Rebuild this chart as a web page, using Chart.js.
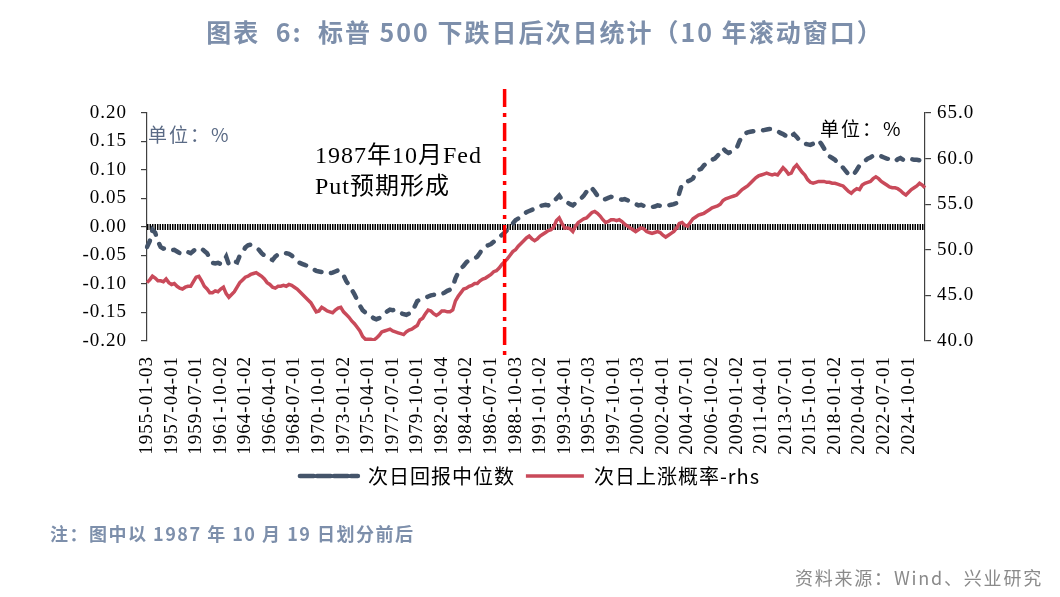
<!DOCTYPE html>
<html>
<head>
<meta charset="utf-8">
<script src="https://cdn.jsdelivr.net/npm/chart.js@4"></script>
<style>
  body { margin: 0; background: #fff; }
  #wrap { position: relative; width: 1060px; height: 597px; overflow: hidden; }
  #chart { position: absolute; left: 0; top: 0; }
  .txt { position: absolute; white-space: nowrap; }
  #title { left: 15px; width: 1060px; top: 13px; text-align: center; font: bold 25px "Noto Sans CJK SC", sans-serif; color: #7d8fab; letter-spacing: 2px; }
  #unitLeft { left: 148px; top: 120px; font: 19px "Noto Sans CJK SC", sans-serif; color: #5a6a85; letter-spacing: 2px; }
  #unitRight { left: 820px; top: 114px; font: 19px "Noto Sans CJK SC", sans-serif; color: #000; letter-spacing: 2px; }
  #fedNote { left: 315px; top: 140px; font: 24px "Liberation Serif", "Noto Sans CJK SC", serif; color: #000; line-height: 31px; letter-spacing: 1px; }
  #note { left: 50px; top: 520px; font: bold 18px "Noto Sans CJK SC", sans-serif; color: #7d8fab; letter-spacing: 1.5px; }
  #source { right: 17px; top: 564px; font: 18px "Noto Sans CJK SC", sans-serif; color: #8a8a8a; letter-spacing: 1.8px; }
</style>
</head>
<body>
<div id="wrap">
  <canvas id="chart" width="1060" height="597"></canvas>
  <div class="txt" id="title">图表&nbsp; 6:&nbsp; 标普 500 下跌日后次日统计（10 年滚动窗口）</div>
  <div class="txt" id="unitLeft">单位：%</div>
  <div class="txt" id="unitRight">单位：%</div>
  <div class="txt" id="fedNote">1987年10月Fed<br>Put预期形成</div>
  <div class="txt" id="note">注：图中以 1987 年 10 月 19 日划分前后</div>
  <div class="txt" id="source">资料来源：Wind、兴业研究</div>
</div>
<script>
// x axis labels shown every 9 quarters
const tickLabels = ['1955-01-03', '1957-04-01', '1959-07-01', '1961-10-02', '1964-01-02', '1966-04-01',
    '1968-07-01', '1970-10-01', '1973-01-02', '1975-04-01', '1977-07-01', '1979-10-01', '1982-01-04',
    '1984-04-02', '1986-07-01', '1988-10-03', '1991-01-02', '1993-04-01', '1995-07-03', '1997-10-01',
    '2000-01-03', '2002-04-01', '2004-07-01', '2006-10-02', '2009-01-02', '2011-04-01', '2013-07-01',
    '2015-10-01', '2018-01-02', '2020-04-01', '2022-07-01', '2024-10-01'];

// 次日回报中位数 (%), quarterly from 1955-01
const medianReturn = [
    -0.035, -0.025, -0.005, -0.010, -0.025, -0.035, -0.038, -0.037, -0.040, -0.041,
    -0.040, -0.043, -0.046, -0.045, -0.047, -0.044, -0.046, -0.042, -0.038, -0.037,
    -0.038, -0.042, -0.046, -0.055, -0.063, -0.064, -0.063, -0.065, -0.060, -0.052,
    -0.066, -0.062, -0.060, -0.062, -0.050, -0.045, -0.036, -0.032, -0.031, -0.033,
    -0.036, -0.040, -0.046, -0.050, -0.054, -0.056, -0.058, -0.052, -0.048, -0.046,
    -0.045, -0.046, -0.047, -0.050, -0.055, -0.060, -0.063, -0.065, -0.067, -0.068,
    -0.071, -0.074, -0.077, -0.078, -0.079, -0.079, -0.082, -0.081, -0.080, -0.078,
    -0.076, -0.078, -0.085, -0.095, -0.102, -0.110, -0.118, -0.128, -0.138, -0.146,
    -0.150, -0.153, -0.156, -0.160, -0.162, -0.160, -0.157, -0.152, -0.148, -0.145,
    -0.146, -0.145, -0.148, -0.151, -0.153, -0.154, -0.152, -0.150, -0.140, -0.130,
    -0.127, -0.125, -0.124, -0.122, -0.120, -0.119, -0.118, -0.119, -0.118, -0.115,
    -0.112, -0.110, -0.105, -0.090, -0.080, -0.073, -0.068, -0.062, -0.058, -0.057,
    -0.055, -0.052, -0.045, -0.038, -0.034, -0.032, -0.030, -0.026, -0.022, -0.018,
    -0.014, -0.010, -0.005, 0.002, 0.006, 0.012, 0.015, 0.018, 0.022, 0.026,
    0.028, 0.030, 0.032, 0.035, 0.037, 0.038, 0.039, 0.038, 0.040, 0.045,
    0.050, 0.055, 0.048, 0.045, 0.043, 0.040, 0.038, 0.042, 0.047, 0.050,
    0.055, 0.062, 0.070, 0.068, 0.062, 0.055, 0.050, 0.048, 0.049, 0.051,
    0.053, 0.052, 0.050, 0.049, 0.048, 0.049, 0.047, 0.044, 0.042, 0.040,
    0.038, 0.039, 0.037, 0.036, 0.037, 0.035, 0.036, 0.038, 0.037, 0.039,
    0.038, 0.038, 0.039, 0.040, 0.042, 0.060, 0.075, 0.078, 0.080, 0.082,
    0.085, 0.095, 0.100, 0.102, 0.108, 0.112, 0.116, 0.118, 0.120, 0.125,
    0.130, 0.138, 0.133, 0.130, 0.132, 0.136, 0.138, 0.150, 0.160, 0.164,
    0.166, 0.167, 0.168, 0.169, 0.170, 0.169, 0.170, 0.171, 0.172, 0.172,
    0.171, 0.168, 0.165, 0.163, 0.160, 0.156, 0.160, 0.163, 0.158, 0.152,
    0.148, 0.146, 0.145, 0.144, 0.146, 0.150, 0.152, 0.146, 0.138, 0.128,
    0.124, 0.121, 0.118, 0.112, 0.108, 0.104, 0.098, 0.092, 0.090, 0.093,
    0.100, 0.108, 0.112, 0.116, 0.120, 0.122, 0.125, 0.124, 0.126, 0.124,
    0.122, 0.120, 0.119, 0.117, 0.115, 0.119, 0.121, 0.118, 0.116, 0.118,
    0.119, 0.118, 0.118, 0.117, 0.118, 0.117
];

// 次日上涨概率 (%, rhs)
const riseProb = [
    46.4, 46.7, 47.1, 46.9, 46.6, 46.6, 46.5, 46.8, 46.4, 46.2,
    46.3, 46.0, 45.8, 45.7, 45.9, 46.0, 46.0, 46.5, 47.0, 47.1,
    46.6, 46.0, 45.7, 45.3, 45.3, 45.5, 45.4, 45.7, 45.9, 45.2,
    44.8, 45.1, 45.4, 45.9, 46.4, 46.7, 47.0, 47.1, 47.3, 47.4,
    47.5, 47.3, 47.1, 46.8, 46.4, 46.2, 45.9, 45.8, 46.0, 46.0,
    46.1, 46.0, 46.2, 46.1, 45.9, 45.7, 45.4, 45.1, 44.8, 44.5,
    44.2, 43.7, 43.2, 43.3, 43.7, 43.5, 43.3, 43.2, 43.1, 43.4,
    43.6, 43.7, 43.2, 42.9, 42.6, 42.2, 41.9, 41.5, 41.1, 40.5,
    40.2, 40.2, 40.2, 40.1, 40.3, 40.6, 41.0, 41.1, 41.2, 41.3,
    41.1, 41.0, 40.9, 40.8, 40.7, 41.0, 41.2, 41.3, 41.5, 41.7,
    42.3, 42.5, 43.0, 43.4, 43.3, 43.0, 42.8, 43.0, 43.3, 43.3,
    43.2, 43.2, 43.4, 44.4, 44.9, 45.3, 45.7, 45.8, 46.0, 46.1,
    46.3, 46.3, 46.6, 46.8, 46.9, 47.1, 47.3, 47.6, 47.7, 48.0,
    48.4, 48.7, 49.0, 49.4, 49.8, 50.0, 50.4, 50.7, 51.0, 51.3,
    51.5, 51.2, 51.0, 51.2, 51.5, 51.7, 51.9, 52.1, 52.2, 52.5,
    53.2, 53.5, 52.9, 52.4, 52.4, 52.3, 52.0, 52.6, 53.0, 53.2,
    53.4, 53.5, 53.8, 54.1, 54.2, 54.0, 53.7, 53.3, 53.0, 53.1,
    53.3, 53.3, 53.2, 53.3, 53.1, 52.8, 52.6, 52.4, 52.2, 52.0,
    52.2, 52.4, 52.3, 52.0, 51.9, 51.8, 51.9, 52.0, 51.9, 51.6,
    51.4, 51.6, 51.8, 52.0, 52.4, 52.9, 53.0, 52.7, 52.6, 53.0,
    53.4, 53.6, 53.8, 53.9, 54.0, 54.2, 54.4, 54.6, 54.7, 54.8,
    55.0, 55.4, 55.6, 55.7, 55.8, 55.9, 56.0, 56.3, 56.6, 56.8,
    57.0, 57.3, 57.6, 57.9, 58.1, 58.2, 58.3, 58.4, 58.3, 58.2,
    58.3, 58.2, 58.6, 59.0, 58.7, 58.3, 58.4, 59.0, 59.3, 58.9,
    58.5, 58.2, 57.7, 57.4, 57.3, 57.4, 57.5, 57.5, 57.5, 57.4,
    57.4, 57.3, 57.3, 57.2, 57.1, 57.0, 56.7, 56.4, 56.2, 56.5,
    56.7, 56.6, 57.1, 57.3, 57.4, 57.5, 57.8, 58.0, 57.8, 57.5,
    57.3, 57.1, 56.9, 56.8, 56.8, 56.7, 56.5, 56.2, 56.0, 56.3,
    56.6, 56.8, 57.0, 57.3, 57.1, 56.8
];

const zeroLine = medianReturn.map(() => 0);
const fedPutQuarter = '1987-10';
const labelStep = 9;

const quarterName = (i) => {
    const year = 1955 + Math.floor(i / 4);
    const month = (i % 4) * 3 + 1;
    return year + '-' + (month < 10 ? '0' + month : month);
};

const categories = medianReturn.map((v, i) => i % labelStep === 0 ? tickLabels[i / labelStep] : quarterName(i));
const fedIndex = medianReturn.map((v, i) => quarterName(i)).indexOf(fedPutQuarter);

const serif = '"Liberation Serif", "Times New Roman", serif';
const cjk = '"Noto Sans CJK SC", sans-serif';

// the original chart has loosely spaced text everywhere
const spacingPlugin = {
    id: 'spacing',
    beforeLayout(chart) { chart.ctx.letterSpacing = '1px'; },
    beforeDraw(chart) { chart.ctx.letterSpacing = '1px'; }
};

const fedLinePlugin = {
    id: 'fedLine',
    afterDatasetsDraw(chart) {
        const x = chart.scales.x.getPixelForValue(fedIndex);
        const area = chart.chartArea;
        const ctx = chart.ctx;
        ctx.save();
        ctx.strokeStyle = '#ff0000';
        ctx.lineWidth = 3.5;
        ctx.setLineDash([18, 6, 4, 6]);
        ctx.beginPath();
        ctx.moveTo(x, area.top - 24);
        ctx.lineTo(x, area.bottom + 17);
        ctx.stroke();
        ctx.restore();
    }
};

const axisGrid = {
    display: true,
    drawOnChartArea: false,
    drawTicks: true,
    tickLength: 6,
    color: '#404040',
    lineWidth: 1.2
};

const ctx = document.getElementById('chart').getContext('2d');

const chart = new Chart(ctx, {
    type: 'line',
    data: {
        labels: categories,
        datasets: [{
            label: '次日回报中位数',
            data: medianReturn,
            yAxisID: 'y',
            borderColor: '#44546a',
            backgroundColor: '#44546a',
            borderWidth: 4.5,
            borderDash: [7, 10],
            borderCapStyle: 'round',
            pointRadius: 0,
            tension: 0
        }, {
            label: '次日上涨概率-rhs',
            data: riseProb,
            yAxisID: 'y1',
            borderColor: '#c94a5a',
            backgroundColor: '#c94a5a',
            borderWidth: 3.5,
            pointRadius: 0,
            tension: 0
        }, {
            label: 'zero',
            data: zeroLine,
            yAxisID: 'y',
            borderColor: '#000',
            borderWidth: 6,
            borderDash: [1.5, 1],
            pointRadius: 0
        }]
    },
    options: {
        responsive: false,
        animation: false,
        layout: {
            padding: { top: 113, left: 0, right: 0, bottom: 101 }
        },
        plugins: {
            tooltip: { enabled: false },
            legend: {
                position: 'bottom',
                labels: {
                    boxWidth: 58,
                    boxHeight: 0,
                    padding: 11,
                    color: '#000',
                    font: { family: cjk, size: 20 },
                    filter: (item) => item.text !== 'zero'
                }
            }
        },
        scales: {
            x: {
                type: 'category',
                offset: false,
                grid: { display: false, drawTicks: false },
                border: { display: false },
                ticks: {
                    autoSkip: false,
                    minRotation: 90,
                    maxRotation: 90,
                    padding: 15,
                    color: '#000',
                    font: { family: serif, size: 19 },
                    callback: function (value, index) {
                        return index % labelStep === 0 ? this.getLabelForValue(value) : null;
                    }
                },
                afterFit: (scale) => { scale.height = 114; }
            },
            y: {
                position: 'left',
                min: -0.2,
                max: 0.2,
                grid: axisGrid,
                border: { display: true, color: '#404040', width: 1.2 },
                ticks: {
                    stepSize: 0.05,
                    padding: 14,
                    color: '#000',
                    font: { family: serif, size: 19 },
                    callback: (v) => v.toFixed(2)
                },
                afterFit: (scale) => { scale.width = 147; }
            },
            y1: {
                position: 'right',
                min: 40,
                max: 65,
                grid: axisGrid,
                border: { display: true, color: '#404040', width: 1.2 },
                ticks: {
                    stepSize: 5,
                    padding: 6,
                    color: '#000',
                    font: { family: serif, size: 19 },
                    callback: (v) => v.toFixed(1)
                },
                afterFit: (scale) => { scale.width = 135; }
            }
        }
    },
    plugins: [spacingPlugin, fedLinePlugin]
});
</script>
</body>
</html>
